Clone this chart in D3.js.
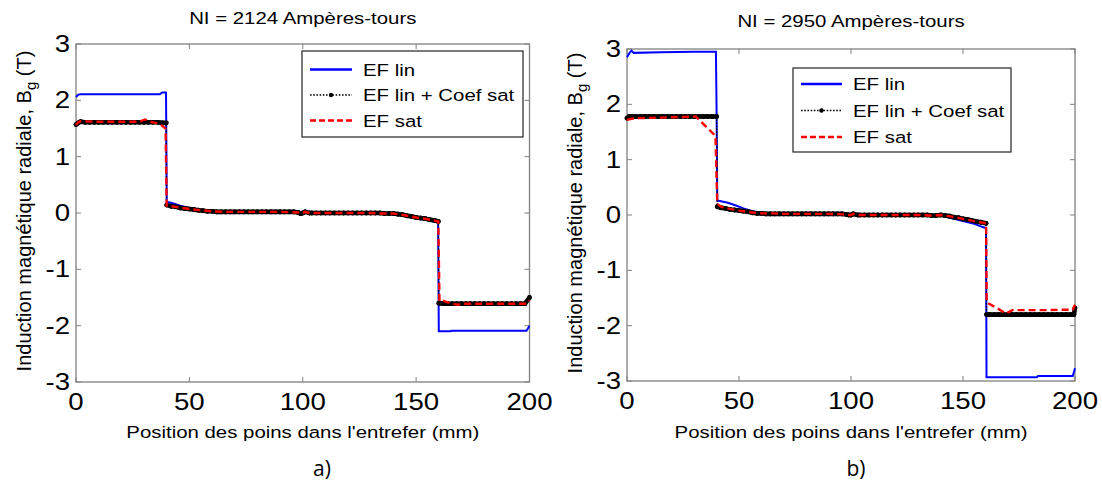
<!DOCTYPE html>
<html><head><meta charset="utf-8">
<script src="https://cdn.jsdelivr.net/npm/d3@7"></script>
<style>
body{margin:0;background:#fff;}
text{font-family:"Liberation Sans",Arial,sans-serif;fill:#000;}
</style></head>
<body><svg id="c" width="1102" height="483"></svg>
<script>
// ---------- data ----------
const xTicks = [0, 50, 100, 150, 200];
const yTicks = [-3, -2, -1, 0, 1, 2, 3];
const panelTitles = ["NI = 2124 Ampères-tours", "NI = 2950 Ampères-tours"];
const panelLabels = ["a)", "b)"];
const seriesNames = ["EF lin", "EF lin + Coef sat", "EF sat"];
const xLabel = "Position des poins dans l'entrefer (mm)";

// panel a) NI = 2124
const aLin = [[0,2.06],[1,2.1],[2,2.11],[10,2.11],[20,2.11],[30,2.11],[37,2.11],[38,2.14],[39.7,2.14],[40,0.19],[41,0.19],[43,0.17],[46,0.13],[50,0.09],[55,0.06],[60,0.03],[65,0.02],[70,0.02],[80,0.02],[90,0.02],[98,0.01],[99,0],[100,0.01],[101,0.02],[103,0],[110,0],[120,0],[130,0],[135,-0.01],[140,-0.02],[145,-0.05],[150,-0.09],[155,-0.13],[159.7,-0.17],[160,-2.1],[165,-2.1],[165.7,-2.09],[180,-2.09],[198.7,-2.09],[200,-2.0]];
const aCoef = [[0,1.57],[1,1.6],[2,1.62],[4,1.61],[6,1.61],[8,1.61],[10,1.61],[12,1.61],[14,1.61],[16,1.61],[18,1.61],[20,1.61],[22,1.61],[24,1.61],[26,1.61],[28,1.61],[30,1.61],[32,1.61],[34,1.61],[36,1.61],[38,1.6],[39.8,1.6],
  [40,0.14],[42,0.12],[44,0.11],[46,0.09],[48,0.08],[50,0.07],[52,0.06],[54,0.05],[56,0.04],[58,0.03],[60,0.03],[62,0.02],[64,0.02],[66,0.02],[68,0.02],[70,0.02],[72,0.02],[74,0.02],[76,0.02],[78,0.02],[80,0.02],[82,0.02],[84,0.02],[86,0.02],[88,0.02],[90,0.02],[92,0.02],[94,0.02],[96,0.02],[98,0.01],[99,-0.01],[100,0],[101,0.02],[103,0],[104,0],[106,0],[108,0],[110,0],[112,0],[114,0],[116,0],[118,0],[120,0],[122,0],[124,0],[126,0],[128,0],[130,0],[132,0],[134,0],[136,-0.01],[138,-0.01],[140,-0.01],[142,-0.02],[144,-0.03],[146,-0.05],[148,-0.06],[150,-0.08],[152,-0.09],[154,-0.1],[156,-0.12],[158,-0.13],[159.8,-0.15],
  [160,-1.6],[162,-1.61],[164,-1.61],[166,-1.61],[168,-1.61],[170,-1.61],[172,-1.61],[174,-1.61],[176,-1.61],[178,-1.61],[180,-1.61],[182,-1.61],[184,-1.61],[186,-1.61],[188,-1.61],[190,-1.61],[192,-1.61],[194,-1.61],[196,-1.61],[198,-1.61],[200,-1.5]];
const aSat = [[0,1.56],[1,1.61],[2,1.63],[10,1.62],[20,1.62],[28,1.62],[30.4,1.66],[33,1.62],[37,1.58],[39.5,1.5],[40,0.13],[42,0.12],[45,0.1],[50,0.07],[55,0.05],[60,0.03],[65,0.02],[70,0.02],[80,0.02],[90,0.02],[98,0.01],[99,-0.01],[100,0],[101,0.02],[103,0],[110,0],[120,0],[130,0],[135,-0.01],[140,-0.01],[145,-0.04],[150,-0.08],[155,-0.11],[159.8,-0.15],[160.3,-1.57],[162,-1.56],[165,-1.6],[168.5,-1.63],[170,-1.61],[190,-1.61],[198.7,-1.61],[200,-1.55]];

// panel b) NI = 2950
const bLin = [[0,2.85],[1,2.92],[2,2.97],[3,2.93],[15,2.94],[30,2.95],[39.7,2.95],[40,1.87],[40.3,0.26],[42,0.25],[45,0.22],[48,0.18],[52,0.12],[56,0.07],[60,0.04],[65,0.03],[70,0.03],[80,0.02],[90,0.02],[98,0.01],[99,0],[100,0],[101,0.02],[103,0],[110,0],[120,0],[130,0],[135,-0.01],[140,-0.01],[145,-0.06],[150,-0.11],[155,-0.16],[160.3,-0.24],[160.5,-2.93],[170,-2.93],[183,-2.93],[183.5,-2.91],[199,-2.91],[200,-2.77]];
const bCoef = [[0,1.75],[1,1.78],[2,1.78],[4,1.78],[6,1.78],[8,1.78],[10,1.78],[12,1.78],[14,1.78],[16,1.78],[18,1.78],[20,1.78],[22,1.78],[24,1.78],[26,1.78],[28,1.78],[30,1.78],[32,1.78],[34,1.78],[36,1.78],[38,1.78],[40,1.78],
  [40.3,0.15],[42,0.13],[44,0.12],[46,0.1],[48,0.09],[50,0.08],[52,0.07],[54,0.06],[56,0.04],[58,0.03],[60,0.03],[62,0.02],[64,0.02],[66,0.02],[68,0.02],[70,0.02],[72,0.02],[74,0.02],[76,0.02],[78,0.02],[80,0.02],[82,0.02],[84,0.02],[86,0.02],[88,0.02],[90,0.02],[92,0.02],[94,0.02],[96,0.02],[98,0.01],[99,0],[100,0],[101,0.02],[103,0],[104,0],[106,0],[108,0],[110,0],[112,0],[114,0],[116,0],[118,0],[120,0],[122,0],[124,0],[126,0],[128,0],[130,0],[132,0],[134,0],[136,-0.01],[138,-0.01],[140,0],[142,-0.01],[144,-0.02],[146,-0.04],[148,-0.05],[150,-0.07],[152,-0.08],[154,-0.1],[156,-0.12],[158,-0.13],[160.3,-0.15],
  [160.5,-1.8],[162,-1.8],[164,-1.8],[166,-1.8],[168,-1.8],[170,-1.8],[172,-1.8],[174,-1.8],[176,-1.8],[178,-1.8],[180,-1.8],[182,-1.8],[184,-1.8],[186,-1.8],[188,-1.8],[190,-1.8],[192,-1.8],[194,-1.8],[196,-1.8],[198,-1.8],[199.5,-1.8],[200,-1.68]];
const bSat = [[0,1.72],[2,1.74],[5,1.75],[15,1.76],[30.7,1.78],[39.5,1.43],[40.3,0.2],[42,0.15],[45,0.12],[50,0.08],[55,0.05],[60,0.03],[65,0.03],[70,0.02],[80,0.02],[90,0.02],[98,0.01],[99,0],[100,0],[101,0.02],[103,0],[110,0],[120,0],[130,0],[135,-0.01],[140,0],[145,-0.03],[150,-0.07],[155,-0.11],[160.3,-0.15],[160.6,-1.58],[165,-1.68],[169.2,-1.78],[172,-1.72],[185,-1.72],[199,-1.71],[200,-1.62]];

// ---------- layout ----------
const panels = [
  {data:[aLin,aCoef,aSat], x0:76, x1:529.5, y0:44, y1:382, titleY:24, ylabX:31, ylabY:211,
   leg:{x:302,y:51,w:221,h:86,rows:[69.5,95,120.5],lx0:310,lx1:352,tx:363}, labX:322},
  {data:[bLin,bCoef,bSat], x0:627, x1:1075, y0:49, y1:381, titleY:27, ylabX:582, ylabY:213,
   leg:{x:793,y:68,w:218,h:84,rows:[84,110.5,137],lx0:801,lx1:842,tx:853}, labX:856}
];
const SX = 1.2;
const svg = d3.select("#c");

function stretchText(g, x, y, str, size, anchor){
  return g.append("text").attr("transform",`translate(${x},${y}) scale(${SX},1)`)
    .attr("text-anchor",anchor||"middle").style("font-size",size+"px").text(str);
}

panels.forEach((p,i)=>{
  const x = d3.scaleLinear().domain([0,200]).range([p.x0,p.x1]);
  const y = d3.scaleLinear().domain([-3,3]).range([p.y1,p.y0]);
  const g = svg.append("g");
  const cx = (p.x0+p.x1)/2;

  // frame
  g.append("rect").attr("x",p.x0).attr("y",p.y0).attr("width",p.x1-p.x0).attr("height",p.y1-p.y0)
    .attr("fill","none").attr("stroke","#808080").attr("stroke-width",1.3);

  // ticks (inward, all four sides)
  const tk = 5;
  xTicks.forEach(t=>{
    g.append("line").attr("x1",x(t)).attr("x2",x(t)).attr("y1",p.y1).attr("y2",p.y1-tk).attr("stroke","#808080");
    g.append("line").attr("x1",x(t)).attr("x2",x(t)).attr("y1",p.y0).attr("y2",p.y0+tk).attr("stroke","#808080");
    stretchText(g, x(t), p.y1+28, String(t), 23, "middle");
  });
  yTicks.forEach(t=>{
    g.append("line").attr("x1",p.x0).attr("x2",p.x0+tk).attr("y1",y(t)).attr("y2",y(t)).attr("stroke","#808080");
    g.append("line").attr("x1",p.x1).attr("x2",p.x1-tk).attr("y1",y(t)).attr("y2",y(t)).attr("stroke","#808080");
    stretchText(g, p.x0-6, y(t)+8, String(t), 23, "end");
  });

  // series
  const line = d3.line().x(d=>x(d[0])).y(d=>y(d[1]));
  const [lin, coef, sat] = p.data;
  g.append("path").datum(lin).attr("d",line).attr("fill","none").attr("stroke","#0000ff").attr("stroke-width",2);
  // dense point markers of "EF lin + Coef sat" merge into a band between neighbouring points
  const pairs = d3.pairs(coef).filter(([a,b])=>Math.abs(b[1]-a[1])<0.5);
  g.selectAll("line.band"+i).data(pairs).enter().append("line").attr("class","band"+i)
    .attr("x1",d=>x(d[0][0])).attr("y1",d=>y(d[0][1])).attr("x2",d=>x(d[1][0])).attr("y2",d=>y(d[1][1]))
    .attr("stroke","#000").attr("stroke-width",4.6).attr("stroke-linecap","round");
  g.append("path").datum(coef).attr("d",line).attr("fill","none").attr("stroke","#000").attr("stroke-width",1.4).attr("stroke-dasharray","1.4,1.6");
  g.selectAll("circle.m"+i).data(coef).enter().append("circle").attr("class","m"+i)
    .attr("cx",d=>x(d[0])).attr("cy",d=>y(d[1])).attr("r",2.4).attr("fill","#000");
  g.append("path").datum(sat).attr("d",line).attr("fill","none").attr("stroke","#ff0000").attr("stroke-width",2.4).attr("stroke-dasharray","7,4");

  // title
  stretchText(g, cx, p.titleY, panelTitles[i], 17, "middle");
  // x label
  stretchText(g, cx, 438, xLabel, 17, "middle");
  // y label
  const yl = g.append("text").attr("transform",`translate(${p.ylabX},${p.ylabY}) rotate(-90)`)
    .attr("text-anchor","middle").style("font-size","20px");
  yl.append("tspan").text("Induction magnétique radiale, B");
  yl.append("tspan").attr("dy",5).style("font-size","15px").text("g");
  yl.append("tspan").attr("dy",-5).text(" (T)");
  // panel letter
  g.append("text").attr("x",p.labX).attr("y",476).attr("text-anchor","middle")
    .style("font-family","'Open Sans',sans-serif").style("font-size","21px").text(panelLabels[i]);

  // legend
  const L = p.leg;
  g.append("rect").attr("x",L.x).attr("y",L.y).attr("width",L.w).attr("height",L.h)
    .attr("fill","#fff").attr("stroke","#222").attr("stroke-width",1.2);
  const styles = [
    {c:"#0000ff",w:2.5,d:null},
    {c:"#000",w:1.6,d:"1.6,1.6"},
    {c:"#ff0000",w:2.5,d:"6,3"}
  ];
  seriesNames.forEach((n,k)=>{
    const s = styles[k];
    const ln = g.append("line").attr("x1",L.lx0).attr("x2",L.lx1).attr("y1",L.rows[k]).attr("y2",L.rows[k])
      .attr("stroke",s.c).attr("stroke-width",s.w);
    if(s.d) ln.attr("stroke-dasharray",s.d);
    if(k===1) g.append("circle").attr("cx",(L.lx0+L.lx1)/2).attr("cy",L.rows[k]).attr("r",2.2).attr("fill","#000");
    stretchText(g, L.tx, L.rows[k]+6, n, 17, "start");
  });
});
</script></body></html>
